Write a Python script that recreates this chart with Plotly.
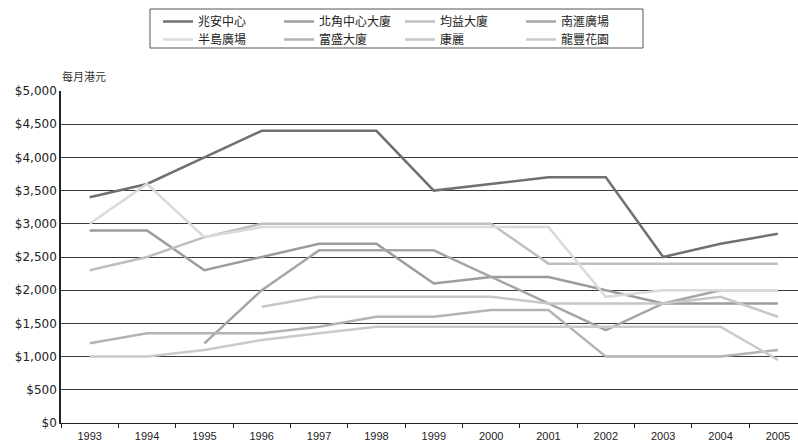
import plotly.graph_objects as go

years = ["1993", "1994", "1995", "1996", "1997", "1998", "1999",
         "2000", "2001", "2002", "2003", "2004", "2005"]

s_zhaoan = [3400, 3600, 4000, 4400, 4400, 4400, 3500, 3600, 3700, 3700, 2500, 2700, 2850]
s_beijiao = [2900, 2900, 2300, 2500, 2700, 2700, 2100, 2200, 2200, 2000, 1800, 1800, 1800]
s_junyi = [2300, 2500, 2800, 3000, 3000, 3000, 3000, 3000, 2400, 2400, 2400, 2400, 2400]
s_nanhui = [None, None, 1200, 2000, 2600, 2600, 2600, 2200, 1800, 1400, 1800, 2000, 2000]
s_bandao = [3000, 3600, 2800, 2950, 2950, 2950, 2950, 2950, 2950, 1900, 2000, 2000, 2000]
s_fusheng = [1200, 1350, 1350, 1350, 1450, 1600, 1600, 1700, 1700, 1000, 1000, 1000, 1100]
s_kangli = [None, None, None, 1750, 1900, 1900, 1900, 1900, 1800, 1800, 1800, 1900, 1600]
s_longfeng = [1000, 1000, 1100, 1250, 1350, 1450, 1450, 1450, 1450, 1450, 1450, 1450, 950]

series = [
    ("兆安中心", s_zhaoan, "#707070", "legend"),
    ("北角中心大廈", s_beijiao, "#9c9c9c", "legend"),
    ("均益大廈", s_junyi, "#bfbfbf", "legend"),
    ("南滙廣場", s_nanhui, "#a6a6a6", "legend"),
    ("半島廣場", s_bandao, "#dadada", "legend2"),
    ("富盛大廈", s_fusheng, "#b3b3b3", "legend2"),
    ("康麗", s_kangli, "#c6c6c6", "legend2"),
    ("龍豐花園", s_longfeng, "#cacaca", "legend2"),
]

W, H = 798, 443
L, R, T, B = 61, 0, 91, 20
pw = W - L - R
ph = H - T - B
cat_w = 57.35
x_max = -0.5 + pw / cat_w

fig = go.Figure()
for name, vals, col, lg in series:
    fig.add_trace(go.Scatter(
        x=years, y=vals, name=name, mode="lines",
        line=dict(color=col, width=2.5),
        connectgaps=False, legend=lg,
    ))

font_main = "Liberation Sans, Arial, Noto Sans CJK TC, sans-serif"

legend_common = dict(
    orientation="h", xref="container", yref="container",
    xanchor="left", yanchor="top",
    bgcolor="rgba(0,0,0,0)", borderwidth=0,
    entrywidth=76, entrywidthmode="pixels",
    font=dict(family="Noto Sans CJK TC, sans-serif", size=12, color="#222"),
    itemclick=False, tracegroupgap=0,
)

fig.update_layout(
    width=W, height=H,
    margin=dict(l=L, r=R, t=T, b=B),
    paper_bgcolor="white", plot_bgcolor="white",
    font=dict(family=font_main, size=11, color="#222"),
    legend=dict(legend_common, x=158 / W, y=1 - 7 / H),
    legend2=dict(legend_common, x=158 / W, y=1 - 25 / H),
    xaxis=dict(
        type="category", range=[-0.5, x_max],
        showgrid=False, showline=True, linecolor="#222", linewidth=1,
        ticks="outside", tickson="boundaries", ticklen=4, tickcolor="#222",
        ticklabelstandoff=3,
        tickfont=dict(family=font_main, size=11, color="#222"),
        fixedrange=True,
    ),
    yaxis=dict(
        range=[0, 5000], dtick=500, tick0=0,
        tickprefix="$", tickformat=",d",
        showgrid=True, gridcolor="#3a3a3a", gridwidth=1,
        showline=True, linecolor="#222", linewidth=1.5,
        zeroline=False, ticks="",
        tickfont=dict(family="DejaVu Sans, sans-serif", size=12, color="#222"),
        fixedrange=True,
    ),
    showlegend=True,
)

# legend frame
fig.add_shape(
    type="rect", xref="paper", yref="paper",
    x0=(150 - L) / pw, x1=(643 - L) / pw,
    y0=(H - B - 48) / ph, y1=(H - B - 9) / ph,
    line=dict(color="#555", width=1), fillcolor="rgba(0,0,0,0)",
    layer="above",
)

fig.add_annotation(
    text="每月港元", xref="paper", yref="paper",
    x=(60 - L) / pw, y=(H - B - 76) / ph,
    xanchor="left", yanchor="middle", showarrow=False,
    font=dict(family="Noto Sans CJK TC, sans-serif", size=11, color="#333"),
)

fig.write_html("out.html")
